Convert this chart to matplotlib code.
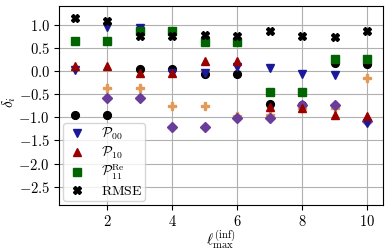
import numpy as np
import matplotlib
matplotlib.use("Agg")
import matplotlib.pyplot as plt
from matplotlib.ticker import FormatStrFormatter

plt.rcParams["font.family"] = "serif"
plt.rcParams["font.serif"] = ["DejaVu Serif"]
plt.rcParams["mathtext.fontset"] = "cm"

nan = np.nan
l_max = [1, 2, 3, 4, 5, 6, 7, 8, 9, 10]

# labelled series
p00 = [0.02, 0.96, 0.93, -0.04, -0.03, 0.09, 0.07, -0.07, -0.09, -1.13]
p10 = [0.11, 0.12, -0.05, -0.05, 0.23, 0.23, -0.77, -0.79, -0.94, -0.96]
p11_re = [0.65, 0.65, 0.87, 0.87, 0.63, 0.63, -0.45, -0.45, 0.27, 0.27]
rmse = [1.15, 1.08, 0.77, 0.77, 0.79, 0.77, 0.88, 0.77, 0.75, 0.87]

# unlabelled series
circ = [-0.94, -0.94, 0.05, 0.05, -0.07, -0.07, -0.72, -0.74, 0.17, 0.16]
plus = [nan, -0.37, -0.37, -0.76, -0.76, -0.96, -0.94, -0.79, -0.79, -0.15]
diam = [nan, -0.57, -0.57, -1.21, -1.20, -1.02, -1.02, -0.74, -0.74, -1.08]

fig = plt.figure(figsize=(3.9, 2.52), dpi=100)
ax = fig.add_axes([0.151, 0.186, 0.831, 0.79])

ms = 5.6
ax.plot(l_max, circ, "o", color="black", ms=ms, ls="none")
ax.plot(l_max, plus, "P", color="#e29a58", ms=ms, ls="none")
ax.plot(l_max, diam, "D", color="#6a3d9a", ms=ms - 0.5, ls="none")
ax.plot(l_max, p00, "v", color="#1a1a99", ms=ms, ls="none", label=r"$\mathcal{P}_{00}$")
ax.plot(l_max, p10, "^", color="#990000", ms=ms, ls="none", label=r"$\mathcal{P}_{10}$")
ax.plot(l_max, p11_re, "s", color="#006400", ms=ms, ls="none",
        label=r"$\mathcal{P}^{\mathrm{Re}}_{11}$")
ax.plot(l_max, rmse, "X", color="black", ms=ms, ls="none", label=r"$\mathrm{RMSE}$")

ax.set_xlim(0.52, 10.48)
ax.set_ylim(-2.9, 1.41)
ax.set_xticks([2, 4, 6, 8, 10])
ax.set_yticks([-2.5, -2.0, -1.5, -1.0, -0.5, 0.0, 0.5, 1.0])
ax.xaxis.set_major_formatter(FormatStrFormatter(r"$%d$"))
ax.yaxis.set_major_formatter(FormatStrFormatter(r"$%.1f$"))
ax.tick_params(labelsize=10.5, pad=3)
ax.grid(True, color="#b0b0b0", lw=0.8)
ax.set_axisbelow(True)

ax.set_xlabel(r"$\ell^{(\mathrm{inf})}_{\max}$", fontsize=11, labelpad=0)
ax.set_ylabel(r"$\delta_i$", fontsize=11)
ax.yaxis.set_label_coords(-0.125, 0.52)

ax.legend(loc="lower left", fontsize=10, handletextpad=0.9, borderaxespad=0.3,
          borderpad=0.2, labelspacing=0.15, handlelength=1.6)

fig.savefig("out.png", dpi=100)
